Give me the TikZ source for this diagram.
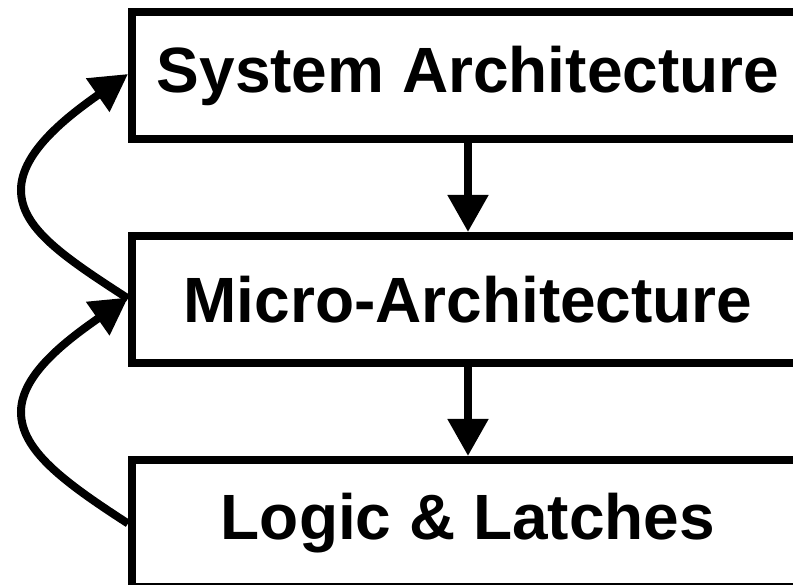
\documentclass[tikz,border=0pt]{standalone}
\usepackage{fontspec}
\setmainfont{Liberation Sans}
\usetikzlibrary{arrows.meta}
\begin{document}
\begin{tikzpicture}[x=1pt,y=-1pt,
  box/.style={draw=black,line width=8pt,minimum width=672pt,minimum height=127pt,
    inner sep=0pt,font=\fontsize{64}{70}\selectfont\bfseries},
  arr/.style={line width=8pt,-{Triangle[length=37pt,width=39pt]}}]
\useasboundingbox (0,0) rectangle (793,585);
\clip (0,0) rectangle (793,585);
\fill[white] (0,0) rectangle (793,585);
\node[box] (top) at (468,75.5) {System Architecture};
\node[box] (mid) at (468,299.5) {Micro-Architecture};
\node[box] (bot) at (468,523.5) {Logic \& Latches};
\coordinate (k1) at (21,190);
\coordinate (k2) at (21,412);
\draw[arr] (top.south) -- (mid.north);
\draw[arr] (mid.south) -- (bot.north);
\draw[arr] ([yshift=1pt]mid.west) .. controls +(-65,-42) and +(0,38) .. (k1)
  .. controls +(0,-38) and +(-60,42) .. ([yshift=1.5pt]top.west);
\draw[arr] (bot.west) .. controls +(-65,-42) and +(0,38) .. (k2)
  .. controls +(0,-38) and +(-60,42) .. ([yshift=2pt]mid.west);
\end{tikzpicture}
\end{document}
